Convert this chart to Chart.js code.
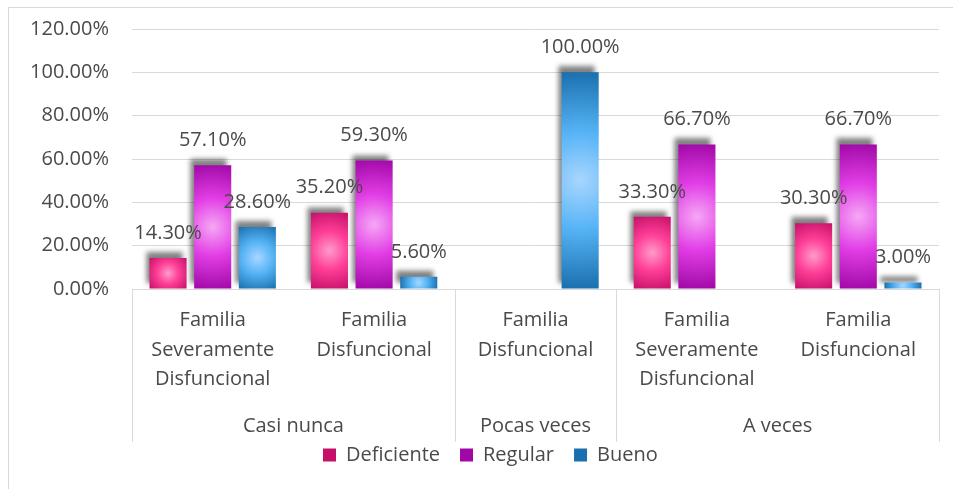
<!DOCTYPE html>
<html>
<head>
<meta charset="utf-8">
<script src="https://cdn.jsdelivr.net/npm/chart.js@4"></script>
<style>
  body { margin: 0; background: #fff; }
  #grafico { display: block; }
</style>
</head>
<body>
<canvas id="grafico" width="953" height="489"></canvas>
<script>
// Datos del gráfico
const subcategorias = [
  ['Familia', 'Severamente', 'Disfuncional'],
  ['Familia', 'Disfuncional'],
  ['Familia', 'Disfuncional'],
  ['Familia', 'Severamente', 'Disfuncional'],
  ['Familia', 'Disfuncional']
];
const grupos = ['Casi nunca', 'Pocas veces', 'A veces'];
const tamanoGrupos = [2, 1, 2];
const deficiente = [14.3, 35.2, null, 33.3, 30.3];
const regular = [57.1, 59.3, null, 66.7, 66.7];
const bueno = [28.6, 5.6, 100, null, 3.0];

const gris = '#4a4a4a';
const lineaGris = '#d9d9d9';
Chart.defaults.font.family = "'Open Sans', sans-serif";
Chart.defaults.font.size = 20;
Chart.defaults.color = gris;

// relleno con degradado radial por barra
function degradado(claro, medio, oscuro) {
  return (c) => {
    const el = c.element;
    if (!el || el.width == null || el.base == null || isNaN(el.x)) return medio;
    const cx = el.x, cy = (el.y + el.base) / 2;
    const r = Math.hypot(el.width / 2, Math.abs(el.base - el.y) / 2) || 1;
    const g = c.chart.ctx.createRadialGradient(cx, cy, 0, cx, cy, r);
    g.addColorStop(0, claro);
    g.addColorStop(0.45, medio);
    g.addColorStop(1, oscuro);
    return g;
  };
}

const sombra = {
  id: 'sombra',
  beforeDatasetDraw(chart) {
    const ctx = chart.ctx;
    ctx.save();
    ctx.shadowColor = 'rgba(0,0,0,0.5)';
    ctx.shadowBlur = 5;
    ctx.shadowOffsetX = -4;
    ctx.shadowOffsetY = -6;
  },
  afterDatasetDraw(chart) {
    chart.ctx.restore();
  }
};

const etiquetas = {
  id: 'etiquetas',
  afterDatasetsDraw(chart) {
    const ctx = chart.ctx;
    ctx.save();
    ctx.font = "20px 'Open Sans'";
    ctx.fillStyle = gris;
    ctx.textAlign = 'center';
    ctx.textBaseline = 'middle';
    chart.data.datasets.forEach((ds, i) => {
      chart.getDatasetMeta(i).data.forEach((el, j) => {
        const v = ds.data[j];
        if (v == null) return;
        ctx.fillText(v.toFixed(2) + '%', el.x, el.y - 25);
      });
    });
    ctx.restore();
  }
};

// eje de categorías de dos niveles y marco
const ejeGrupos = {
  id: 'ejeGrupos',
  afterLayout(chart) {
    const lg = chart.legend;
    const p = lg.options.labels.padding;
    const inicio = (lg.left + p + lg.right - lg.lineWidths[0]) / 2;
    const dx = 323 - inicio;
    lg.left += dx;
    lg.right += dx;
  },
  beforeDraw(chart) {
    const ctx = chart.ctx;
    ctx.save();
    ctx.strokeStyle = lineaGris;
    ctx.lineWidth = 1;
    ctx.strokeRect(8.5, 7.5, 960, 500);
    ctx.restore();
  },
  afterDraw(chart) {
    const ctx = chart.ctx;
    const x = chart.scales.x;
    const top = x.top;
    const bottom = top + 153;
    const borde = (i) => {
      if (i <= 0) return x.left;
      if (i >= subcategorias.length) return x.right;
      return (x.getPixelForTick(i - 1) + x.getPixelForTick(i)) / 2;
    };
    ctx.save();
    ctx.strokeStyle = lineaGris;
    ctx.lineWidth = 1;
    ctx.font = "20px 'Open Sans'";
    ctx.fillStyle = gris;
    ctx.textAlign = 'center';
    ctx.textBaseline = 'middle';
    let k = 0;
    const cortes = [0];
    tamanoGrupos.forEach((n, g) => {
      const a = borde(k), b = borde(k + n);
      ctx.fillText(grupos[g], (a + b) / 2, 426);
      k += n;
      cortes.push(k);
    });
    cortes.forEach((c) => {
      const px = Math.round(borde(c)) + 0.5;
      ctx.beginPath();
      ctx.moveTo(px, top);
      ctx.lineTo(px, bottom);
      ctx.stroke();
    });
    ctx.restore();
  }
};

const chart = new Chart(document.getElementById('grafico').getContext('2d'), {
  type: 'bar',
  data: {
    labels: subcategorias,
    datasets: [
      { label: 'Deficiente', data: deficiente, backgroundColor: degradado('#ff9bcb', '#ff3f97', '#c5106a') },
      { label: 'Regular', data: regular, backgroundColor: degradado('#f5a8f5', '#e23ee6', '#a008a6') },
      { label: 'Bueno', data: bueno, backgroundColor: degradado('#a8d6ff', '#55b3f5', '#1a6fae') }
    ]
  },
  options: {
    responsive: false,
    animation: false,
    categoryPercentage: 0.83,
    barPercentage: 0.83,
    layout: { padding: { top: 29, left: 0, right: 14, bottom: 14 } },
    plugins: {
      tooltip: { enabled: false },
      legend: {
        position: 'bottom',
        labels: { boxWidth: 13, boxHeight: 13, padding: 20, color: gris, font: { size: 20 } }
      }
    },
    scales: {
      x: {
        grid: { display: false, drawTicks: false },
        border: { display: true, color: lineaGris },
        ticks: { autoSkip: false, maxRotation: 0, padding: 17, color: gris, font: { size: 20, lineHeight: 1.47 } },
        afterFit(s) { s.height = 136; }
      },
      y: {
        min: 0,
        max: 120,
        grid: { color: lineaGris, drawTicks: false },
        border: { display: false },
        ticks: { stepSize: 20, padding: 23, color: gris, font: { size: 20 }, callback: (v) => v.toFixed(2) + '%' },
        afterFit(s) { s.width = 132; s.paddingTop = 0; s.paddingBottom = 0; }
      }
    }
  },
  plugins: [sombra, etiquetas, ejeGrupos]
});
chart.update();
</script>
</body>
</html>
